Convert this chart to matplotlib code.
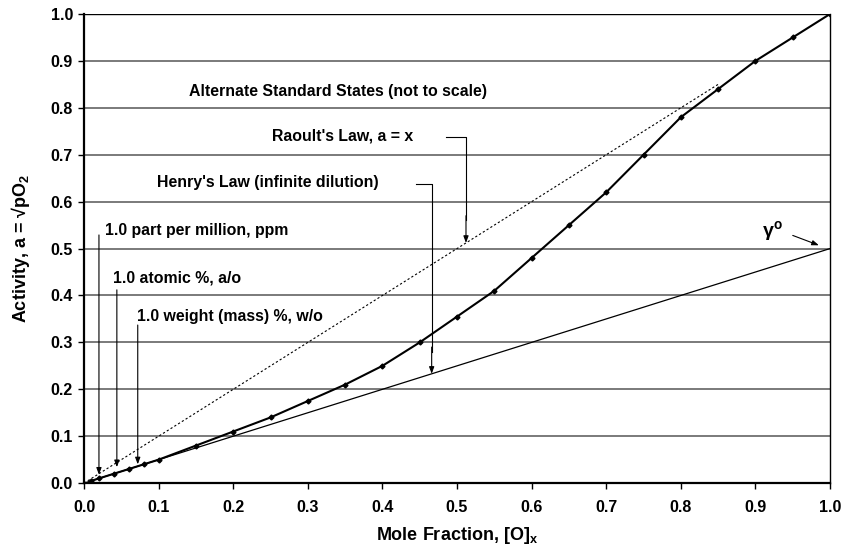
import numpy as np
import matplotlib
matplotlib.use('Agg')
import matplotlib.pyplot as plt

plt.rcParams['font.family'] = ['Liberation Sans', 'DejaVu Sans']
plt.rcParams['font.weight'] = 'bold'
plt.rcParams['mathtext.fontset'] = 'custom'
plt.rcParams['mathtext.rm'] = 'Liberation Sans:bold'
plt.rcParams['mathtext.it'] = 'Liberation Sans:bold'
plt.rcParams['mathtext.bf'] = 'Liberation Sans:bold'

# measured activity vs mole fraction
mole_frac = [0.01, 0.02, 0.04, 0.06, 0.08, 0.10, 0.15, 0.20, 0.25, 0.30, 0.35, 0.40,
             0.45, 0.50, 0.55, 0.60, 0.65, 0.70, 0.75, 0.80, 0.85, 0.90, 0.95, 1.00]
activity = [0.005, 0.01, 0.02, 0.03, 0.04, 0.05, 0.08, 0.11, 0.14, 0.175, 0.21, 0.25,
            0.30, 0.355, 0.41, 0.48, 0.55, 0.62, 0.70, 0.78, 0.84, 0.90, 0.95, 1.00]

# reference lines
raoult_x = [0.0, 0.85]
raoult_y = [0.0, 0.85]
henry_x = [0.0, 1.0]
henry_y = [0.0, 0.5]

ticks = np.round(np.arange(0, 1.01, 0.1), 1)
tick_labels = ['%.1f' % t for t in ticks]

fig = plt.figure(figsize=(8.42, 5.49), dpi=100)
ax = fig.add_axes([0.0998, 0.12, 0.886, 0.8545])

for t in ticks[1:-1]:
    ax.axhline(t, color='#707070', lw=1.3, zorder=1)
ax.axhline(1.0, color='black', lw=1.0, zorder=1)

ax.plot(raoult_x, raoult_y, color='black', lw=0.8, ls=(0, (2, 2)), zorder=2)
ax.plot(henry_x, henry_y, color='black', lw=0.9, zorder=2)
ax.plot(mole_frac, activity, color='black', lw=1.5, marker='D', ms=2.5, zorder=3)

ax.set_xlim(0, 1)
ax.set_ylim(0, 1)
ax.set_xticks(ticks)
ax.set_xticklabels(tick_labels)
ax.set_yticks(ticks)
ax.set_yticklabels(tick_labels)
ax.tick_params(direction='out', length=4, width=1, labelsize=11.5)
ax.tick_params(axis='x', pad=8)
ax.tick_params(axis='y', pad=4)
for s in ['left', 'bottom']:
    ax.spines[s].set_linewidth(1.6)
ax.spines['right'].set_linewidth(1.0)
ax.spines['top'].set_visible(False)

ax.set_xlabel('Mole Fraction, [O]$_x$', fontsize=13, fontweight='bold', labelpad=7)
ax.set_ylabel('Activity, a = \u221apO$_2$', fontsize=13, fontweight='bold', labelpad=13)

fs = 11.4
ax.text(0.34, 0.834, 'Alternate Standard States (not to scale)', ha='center', va='center', fontsize=fs)
ax.text(0.252, 0.74, "Raoult's Law, a = x", ha='left', va='center', fontsize=fs)
ax.text(0.098, 0.64, "Henry's Law (infinite dilution)", ha='left', va='center', fontsize=fs)
ax.text(0.028, 0.539, '1.0 part per million, ppm', ha='left', va='center', fontsize=fs)
ax.text(0.039, 0.437, '1.0 atomic %, a/o', ha='left', va='center', fontsize=fs)
ax.text(0.071, 0.356, '1.0 weight (mass) %, w/o', ha='left', va='center', fontsize=fs)
ax.text(0.923, 0.537, r'$\gamma^{\mathrm{o}}$', ha='center', va='center', fontsize=14)

arr = dict(arrowstyle='-|>,head_length=0.4,head_width=0.15', color='black', lw=0.8, shrinkA=0, shrinkB=0)
# bracketed leaders
ax.plot([0.485, 0.512, 0.512], [0.738, 0.738, 0.56], color='black', lw=0.8)
ax.annotate('', xy=(0.512, 0.512), xytext=(0.512, 0.57), arrowprops=arr)
ax.plot([0.445, 0.466, 0.466], [0.638, 0.638, 0.28], color='black', lw=0.8)
ax.annotate('', xy=(0.466, 0.233), xytext=(0.466, 0.29), arrowprops=arr)
# vertical arrows
ax.annotate('', xy=(0.02, 0.018), xytext=(0.02, 0.529), arrowprops=arr)
ax.annotate('', xy=(0.044, 0.034), xytext=(0.044, 0.412), arrowprops=arr)
ax.annotate('', xy=(0.072, 0.04), xytext=(0.072, 0.337), arrowprops=arr)
ax.annotate('', xy=(0.985, 0.507), xytext=(0.95, 0.528), arrowprops=arr)

fig.savefig('out.png', dpi=100)
